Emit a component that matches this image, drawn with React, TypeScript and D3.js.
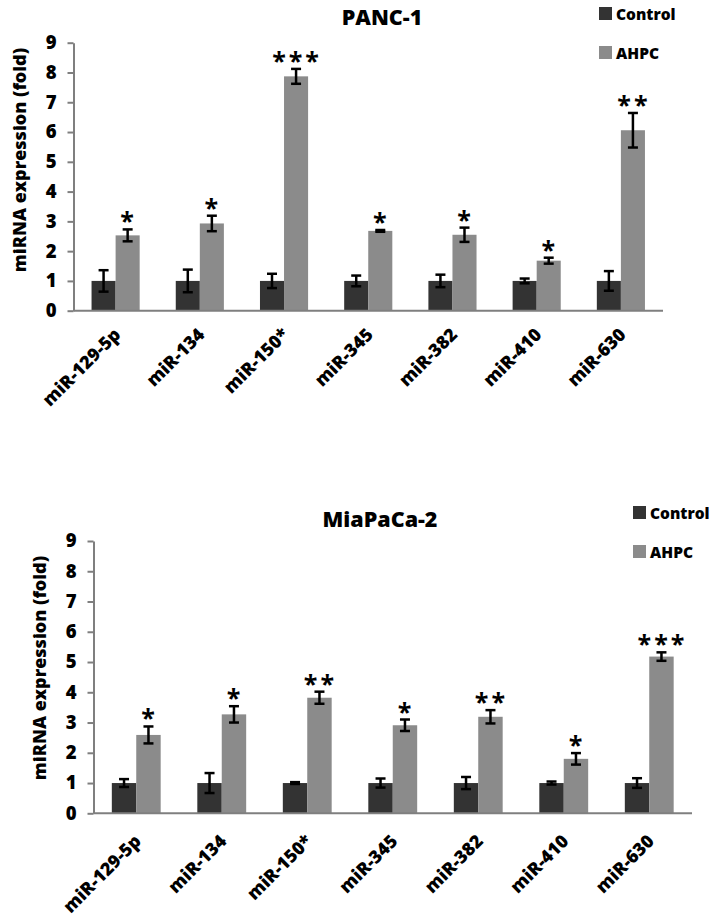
import React, { useRef, useEffect } from 'react';
import * as d3 from 'd3';

const categories = ["miR-129-5p", "miR-134", "miR-150*", "miR-345", "miR-382", "miR-410", "miR-630"];
const seriesNames = ["Control", "AHPC"];

// PANC-1
const panc1Control = [1, 1, 1, 1, 1, 1, 1];
const panc1ControlErr = [0.36, 0.38, 0.24, 0.18, 0.21, 0.08, 0.33];
const panc1Ahpc = [2.53, 2.93, 7.87, 2.68, 2.55, 1.68, 6.06];
const panc1AhpcErr = [0.2, 0.26, 0.25, 0.03, 0.24, 0.1, 0.58];
const panc1Stars = ["*", "*", "***", "*", "*", "*", "**"];

// MiaPaCa-2
const miaControl = [1, 1, 1, 1, 1, 1, 1];
const miaControlErr = [0.13, 0.33, 0.03, 0.15, 0.2, 0.05, 0.16];
const miaAhpc = [2.59, 3.27, 3.82, 2.91, 3.19, 1.8, 5.18];
const miaAhpcErr = [0.28, 0.27, 0.2, 0.19, 0.22, 0.19, 0.14];
const miaStars = ["*", "*", "**", "*", "**", "*", "***"];

const yTicks = [0, 1, 2, 3, 4, 5, 6, 7, 8, 9];

const FONT = "'Open Sans', 'Noto Sans', sans-serif";
const colors = ["#333333", "#8b8b8b"];

interface Panel {
    title: string;
    control: number[];
    controlErr: number[];
    ahpc: number[];
    ahpcErr: number[];
    stars: string[];
    left: number;
    right: number;
    top: number;    // y of 9
    bottom: number; // y of 0
    titleX: number;
    titleY: number;
    legendX: number;
    legendY: number;
    yLabelX: number;
    yLabelY: number;
    labelDy: number;
}

const panels: Panel[] = [
    {
        title: "PANC-1",
        control: panc1Control, controlErr: panc1ControlErr,
        ahpc: panc1Ahpc, ahpcErr: panc1AhpcErr, stars: panc1Stars,
        left: 73.5, right: 663, top: 42.7, bottom: 310.7,
        titleX: 382, titleY: 25,
        legendX: 599, legendY: 7,
        yLabelX: 20, yLabelY: 160,
        labelDy: 25,
    },
    {
        title: "MiaPaCa-2",
        control: miaControl, controlErr: miaControlErr,
        ahpc: miaAhpc, ahpcErr: miaAhpcErr, stars: miaStars,
        left: 93.5, right: 692, top: 541, bottom: 813.3,
        titleX: 380, titleY: 527,
        legendX: 633, legendY: 506,
        yLabelX: 40, yLabelY: 668,
        labelDy: 29,
    },
];

function drawPanel(svg: d3.Selection<SVGSVGElement, unknown, null, undefined>, p: Panel) {
    const g = svg.append("g");

    const x0 = d3.scaleBand<string>().domain(categories).range([p.left, p.right]).padding(0);
    const step = x0.step();
    // Excel-style: gap width 150% of a bar
    const x1 = d3.scaleBand<string>()
        .domain(seriesNames)
        .range([step * 0.75 / 3.5, step * 2.75 / 3.5])
        .padding(0);
    const y = d3.scaleLinear().domain([0, 9]).range([p.bottom, p.top]);

    const values = [p.control, p.ahpc];
    const errs = [p.controlErr, p.ahpcErr];

    // bars
    seriesNames.forEach((s, si) => {
        g.append("g")
            .selectAll("rect")
            .data(categories)
            .join("rect")
            .attr("x", c => (x0(c) as number) + (x1(s) as number))
            .attr("y", (c, i) => y(values[si][i]))
            .attr("width", x1.bandwidth())
            .attr("height", (c, i) => y(0) - y(values[si][i]))
            .attr("fill", colors[si]);
    });

    // y axis
    const yAxis = d3.axisLeft(y).tickValues(yTicks).tickSize(6).tickSizeOuter(0).tickPadding(11)
        .tickFormat(d3.format("d"));
    const ya = g.append("g").attr("transform", `translate(${p.left},0)`).call(yAxis);
    ya.select(".domain").attr("stroke", "#7f7f7f").attr("stroke-width", 2);
    ya.selectAll(".tick line").attr("stroke", "#7f7f7f").attr("stroke-width", 2);
    ya.selectAll(".tick text")
        .attr("fill", "#000")
        .attr("font-family", FONT)
        .attr("font-weight", 800)
        .attr("font-size", 18.5);

    // x axis line
    g.append("line")
        .attr("x1", p.left).attr("x2", p.right)
        .attr("y1", y(0)).attr("y2", y(0))
        .attr("stroke", "#7f7f7f").attr("stroke-width", 2);

    // error bars
    seriesNames.forEach((s, si) => {
        categories.forEach((c, i) => {
            const cx = (x0(c) as number) + (x1(s) as number) + x1.bandwidth() / 2;
            const hi = y(values[si][i] + errs[si][i]);
            const lo = y(values[si][i] - errs[si][i]);
            const eg = g.append("g").attr("stroke", "#000").attr("stroke-width", 2.5);
            eg.append("line").attr("x1", cx).attr("x2", cx).attr("y1", hi).attr("y2", lo);
            eg.append("line").attr("x1", cx - 5).attr("x2", cx + 5).attr("y1", hi).attr("y2", hi);
            eg.append("line").attr("x1", cx - 5).attr("x2", cx + 5).attr("y1", lo).attr("y2", lo);
        });
    });

    // significance stars
    g.append("g")
        .selectAll("text")
        .data(categories)
        .join("text")
        .attr("x", c => (x0(c) as number) + (x1("AHPC") as number) + x1.bandwidth() / 2 + 1)
        .attr("y", (c, i) => y(p.ahpc[i] + p.ahpcErr[i]) + 1)
        .attr("text-anchor", "middle")
        .attr("font-family", FONT)
        .attr("font-weight", 700)
        .attr("font-size", 25)
        .attr("letter-spacing", 3)
        .text((c, i) => p.stars[i]);

    // category labels
    g.append("g")
        .selectAll("text")
        .data(categories)
        .join("text")
        .attr("transform", c => `translate(${(x0(c) as number) + step / 2 + 6},${y(0) + p.labelDy}) rotate(-45)`)
        .attr("text-anchor", "end")
        .attr("font-family", FONT)
        .attr("font-weight", 800)
        .attr("font-size", 18)
        .text(c => c);

    // y label
    g.append("text")
        .attr("transform", `translate(${p.yLabelX + 6},${p.yLabelY}) rotate(-90)`)
        .attr("text-anchor", "middle")
        .attr("font-family", FONT)
        .attr("font-weight", 800)
        .attr("font-size", 18)
        .text("miRNA expression (fold)");

    // title
    g.append("text")
        .attr("x", p.titleX).attr("y", p.titleY)
        .attr("text-anchor", "middle")
        .attr("font-family", FONT)
        .attr("font-weight", 800)
        .attr("font-size", 21.5)
        .text(p.title);

    // legend
    const lg = g.append("g").attr("transform", `translate(${p.legendX},${p.legendY})`);
    seriesNames.forEach((s, si) => {
        lg.append("rect")
            .attr("x", 0).attr("y", si * 39)
            .attr("width", 13).attr("height", 13)
            .attr("fill", colors[si]);
        lg.append("text")
            .attr("x", 17).attr("y", si * 39 + 13)
            .attr("font-family", FONT)
            .attr("font-weight", 800)
            .attr("font-size", 15.5)
            .text(s);
    });
}

export default function App() {
    const svgRef = useRef<SVGSVGElement>(null);

    useEffect(() => {
        if (!svgRef.current) return;
        const svg = d3.select(svgRef.current);
        svg.selectAll("*").remove();
        panels.forEach(p => drawPanel(svg, p));
    }, []);

    return (
        <div style={{ position: "absolute", left: 0, top: 0 }}>
            <svg ref={svgRef} width={717} height={923} style={{ display: "block", background: "#fff" }} />
        </div>
    );
}
